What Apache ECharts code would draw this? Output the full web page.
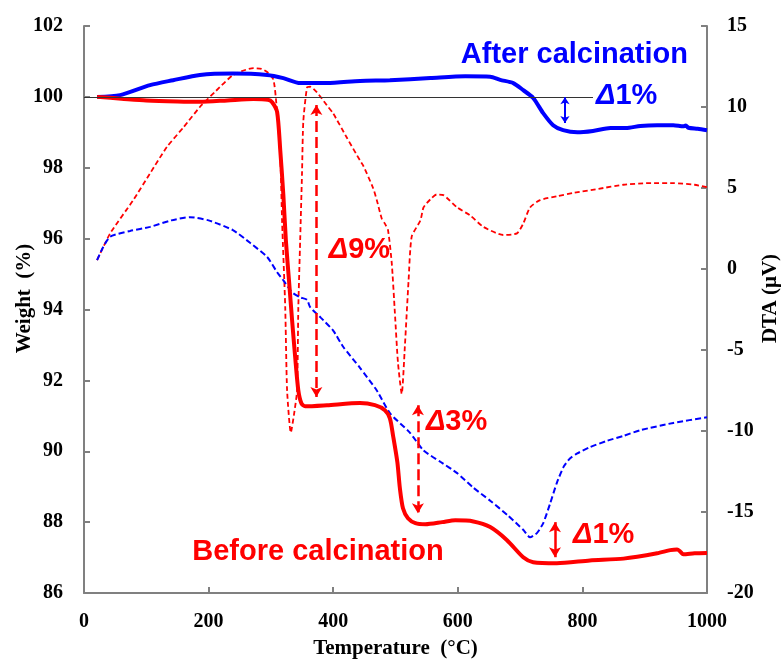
<!DOCTYPE html>
<html>
<head>
<meta charset="utf-8">
<script src="https://cdn.jsdelivr.net/npm/echarts@6/dist/echarts.min.js"></script>
<style>
html,body{margin:0;padding:0;background:#fff;}
#chart{width:781px;height:659px;}
</style>
</head>
<body>
<div id="chart"></div>
<script>
// ---- Axis ticks ----
var xTicks = [0, 200, 400, 600, 800, 1000];
var weightTicks = [86, 88, 90, 92, 94, 96, 98, 100, 102];
var dtaTicks = [-20, -15, -10, -5, 0, 5, 10, 15];

// ---- TG after calcination (blue solid, Weight %) ----
var afterTgT = [21, 58, 106, 143, 186, 239, 294, 320, 347, 390, 443, 491, 556, 612, 652, 668, 689, 705, 721, 737, 753, 769, 792, 817, 845, 870, 893, 920, 946, 962, 966, 970, 985, 1000];
var afterTgW = [100.0, 100.05, 100.33, 100.47, 100.62, 100.66, 100.62, 100.53, 100.39, 100.39, 100.45, 100.47, 100.53, 100.58, 100.57, 100.48, 100.39, 100.19, 99.97, 99.54, 99.2, 99.06, 99.0, 99.04, 99.12, 99.12, 99.18, 99.2, 99.2, 99.17, 99.19, 99.13, 99.1, 99.06];

// ---- TG before calcination (red solid, Weight %) ----
var beforeTgT = [21, 60, 100, 150, 186, 230, 272, 295, 302, 310, 315, 320, 324, 329, 334, 339, 344, 349, 355, 390, 443, 467, 483, 491, 496, 503, 507, 512, 520, 532, 548, 575, 596, 625, 652, 679, 705, 721, 759, 812, 866, 920, 941, 952, 957, 962, 980, 1000];
var beforeTgW = [100.0, 99.95, 99.9, 99.87, 99.86, 99.9, 99.94, 99.92, 99.85, 99.57, 98.5, 97.23, 95.96, 94.83, 93.7, 92.65, 91.72, 91.35, 91.27, 91.3, 91.36, 91.3, 91.16, 90.93, 90.45, 89.69, 88.96, 88.39, 88.11, 87.97, 87.94, 88.0, 88.05, 88.02, 87.86, 87.49, 87.01, 86.87, 86.84, 86.92, 86.97, 87.12, 87.21, 87.23, 87.17, 87.09, 87.12, 87.13];

// ---- DTA before calcination (red dashed, µV) ----
var beforeDtaT = [21, 42, 79, 106, 133, 160, 186, 212, 239, 260, 272, 285, 294, 304, 309, 315, 318, 323, 326, 332, 337, 342, 344, 347, 350, 352, 358, 363, 374, 390, 400, 422, 443, 448, 464, 470, 478, 483, 488, 494, 499, 504, 510, 515, 521, 526, 540, 545, 556, 566, 577, 599, 620, 641, 673, 695, 705, 716, 732, 760, 786, 826, 866, 906, 946, 980, 1000];
var beforeDtaV = [0.55, 2.2, 4.25, 5.9, 7.53, 8.76, 10.0, 11.0, 11.97, 12.3, 12.4, 12.35, 12.16, 11.7, 10.1, 7.0, 2.9, -2.36, -7.5, -10.1, -9.0, -7.5, -2.4, 1.8, 6.0, 9.1, 11.2, 11.25, 10.9, 10.1, 9.6, 8.1, 6.7, 6.4, 5.0, 4.25, 3.1, 2.8, 2.4, 0.36, -2.7, -5.8, -7.7, -4.8, -0.7, 2.0, 3.0, 3.8, 4.3, 4.6, 4.56, 3.8, 3.3, 2.6, 2.1, 2.2, 2.8, 3.8, 4.25, 4.5, 4.7, 4.95, 5.2, 5.3, 5.3, 5.2, 5.05];

// ---- DTA after calcination (blue dashed, µV) ----
var afterDtaT = [21, 30, 42, 74, 106, 140, 170, 200, 239, 267, 294, 310, 320, 331, 336, 347, 358, 363, 380, 400, 416, 443, 470, 491, 523, 545, 572, 599, 625, 652, 680, 705, 716, 727, 737, 748, 759, 770, 780, 791, 812, 840, 866, 893, 946, 1000];
var afterDtaV = [0.55, 1.3, 2.0, 2.35, 2.6, 3.0, 3.2, 3.0, 2.4, 1.6, 0.74, -0.2, -0.7, -1.3, -1.5, -1.75, -1.9, -2.36, -3.0, -3.8, -4.8, -6.1, -7.5, -8.9, -10.1, -11.2, -11.9, -12.6, -13.5, -14.3, -15.2, -16.1, -16.56, -16.3, -15.7, -14.5, -13.2, -12.2, -11.7, -11.4, -11.0, -10.6, -10.3, -9.95, -9.5, -9.15];

// ---- Annotations: [T, weight] ----
var baseline = [[0, 100], [817, 100]];
var afterArrow = [772, 99.99, 99.26];       // T, top, bottom
var arrow9 = [373, 99.77, 91.53];
var arrow3 = [536, 91.3, 88.25];
var arrow1 = [756, 88.0, 87.01];

var labelAfter = [604, 101.18];
var labelAfterD = [821, 100.02];
var label9 = [392, 95.68];
var label3 = [548, 90.82];
var label1 = [784, 87.63];
var labelBefore = [173, 87.15];

function zip(a, b) { return a.map(function (v, i) { return [v, b[i]]; }); }

var RED = '#ff0000', BLUE = '#0000ff', AXIS = '#808080';
var serif = "'Liberation Serif','Times New Roman',serif";
var sans = "'Liberation Sans',Arial,sans-serif";
var FS = 29;

function arrowLine(a, color, dashed, width, size) {
  return {
    silent: true,
    symbol: ['arrow', 'arrow'],
    symbolSize: size,
    label: { show: false },
    emphasis: { disabled: true },
    lineStyle: { color: color, width: width, type: dashed ? [11, 5] : 'solid' },
    data: [[{ coord: [a[0], a[1]] }, { coord: [a[0], a[2]] }]]
  };
}

function textPoint(pos, text, color) {
  return {
    coord: pos,
    symbol: 'rect',
    symbolSize: 1,
    itemStyle: { color: 'rgba(0,0,0,0)' },
    label: {
      show: true, position: 'right', distance: 0,
      formatter: text, color: color,
      fontFamily: sans, fontWeight: 'bold', fontSize: FS,
      rich: {
        d: { fontFamily: sans, fontWeight: 'bold', fontStyle: 'italic', fontSize: FS, color: color },
        n: { fontFamily: sans, fontWeight: 'bold', fontSize: FS, color: color }
      }
    }
  };
}

var axisCommon = {
  axisLine: { show: true, onZero: false, lineStyle: { color: AXIS, width: 2 } },
  axisTick: { show: true, inside: true, length: 6, lineStyle: { color: AXIS, width: 2 } },
  splitLine: { show: false },
  nameMoveOverlap: false,
  axisLabel: { color: '#000', fontFamily: serif, fontWeight: 'bold', fontSize: 20, margin: 20,
               formatter: function (v) { return String(v); } },
  nameTextStyle: { color: '#000', fontFamily: serif, fontWeight: 'bold', fontSize: 21 }
};
var yNameStyle = Object.assign({}, axisCommon.nameTextStyle, { padding: [0, 0, 0, 22] });

var chart = echarts.init(document.getElementById('chart'), null, { renderer: 'canvas' });
chart.setOption({
  animation: false,
  backgroundColor: '#fff',
  grid: { left: 84, right: 74, top: 26, bottom: 66, containLabel: false, outerBoundsMode: 'none' },
  xAxis: Object.assign({}, axisCommon, {
    type: 'value', min: xTicks[0], max: xTicks[xTicks.length - 1], interval: xTicks[1] - xTicks[0],
    name: 'Temperature  (°C)', nameLocation: 'middle', nameGap: 45,
    axisLabel: Object.assign({}, axisCommon.axisLabel, { margin: 19 })
  }),
  yAxis: [
    Object.assign({}, axisCommon, {
      type: 'value', position: 'left',
      min: weightTicks[0], max: weightTicks[weightTicks.length - 1], interval: weightTicks[1] - weightTicks[0],
      name: 'Weight  (%)', nameLocation: 'middle', nameGap: 49, nameTextStyle: yNameStyle,
      axisLabel: Object.assign({}, axisCommon.axisLabel, { margin: 21 })
    }),
    Object.assign({}, axisCommon, {
      type: 'value', position: 'right',
      min: dtaTicks[0], max: dtaTicks[dtaTicks.length - 1], interval: dtaTicks[1] - dtaTicks[0],
      name: 'DTA (μV)', nameLocation: 'middle', nameGap: 53, nameRotate: 90, nameTextStyle: yNameStyle
    })
  ],
  series: [
    {
      name: 'DTA before', type: 'line', yAxisIndex: 1, data: zip(beforeDtaT, beforeDtaV),
      showSymbol: false, smooth: 0.2, z: 2,
      lineStyle: { color: RED, width: 1.8, type: [5, 3] }
    },
    {
      name: 'DTA after', type: 'line', yAxisIndex: 1, data: zip(afterDtaT, afterDtaV),
      showSymbol: false, smooth: 0.2, z: 2,
      lineStyle: { color: BLUE, width: 2, type: [6, 3] }
    },
    {
      name: 'TG after', type: 'line', yAxisIndex: 0, data: zip(afterTgT, afterTgW),
      showSymbol: false, smooth: 0.25, z: 4,
      lineStyle: { color: BLUE, width: 4 },
      markLine: {
        silent: true, symbol: ['none', 'none'], label: { show: false }, emphasis: { disabled: true },
        lineStyle: { color: '#333333', width: 1, type: 'solid' },
        data: [[{ coord: baseline[0] }, { coord: baseline[1] }]]
      },
      markPoint: {
        silent: true,
        data: [
          textPoint(labelAfter, 'After calcination', BLUE),
          textPoint(labelAfterD, '{d|Δ}{n|1%}', BLUE)
        ]
      }
    },
    {
      name: 'TG before', type: 'line', yAxisIndex: 0, data: zip(beforeTgT, beforeTgW),
      showSymbol: false, smooth: 0.25, z: 4,
      lineStyle: { color: RED, width: 4 },
      markPoint: {
        silent: true,
        data: [
          textPoint(label9, '{d|Δ}{n|9%}', RED),
          textPoint(label3, '{d|Δ}{n|3%}', RED),
          textPoint(label1, '{d|Δ}{n|1%}', RED),
          textPoint(labelBefore, 'Before calcination', RED)
        ]
      }
    },
    { type: 'line', yAxisIndex: 0, data: [], markLine: arrowLine(afterArrow, BLUE, false, 2, [7, 7]) },
    { type: 'line', yAxisIndex: 0, data: [], markLine: arrowLine(arrow9, RED, true, 2.5, [9, 10]) },
    { type: 'line', yAxisIndex: 0, data: [], markLine: arrowLine(arrow3, RED, true, 2.5, [9, 10]) },
    { type: 'line', yAxisIndex: 0, data: [], markLine: arrowLine(arrow1, RED, false, 2.5, [9, 10]) }
  ]
});
</script>
</body>
</html>
